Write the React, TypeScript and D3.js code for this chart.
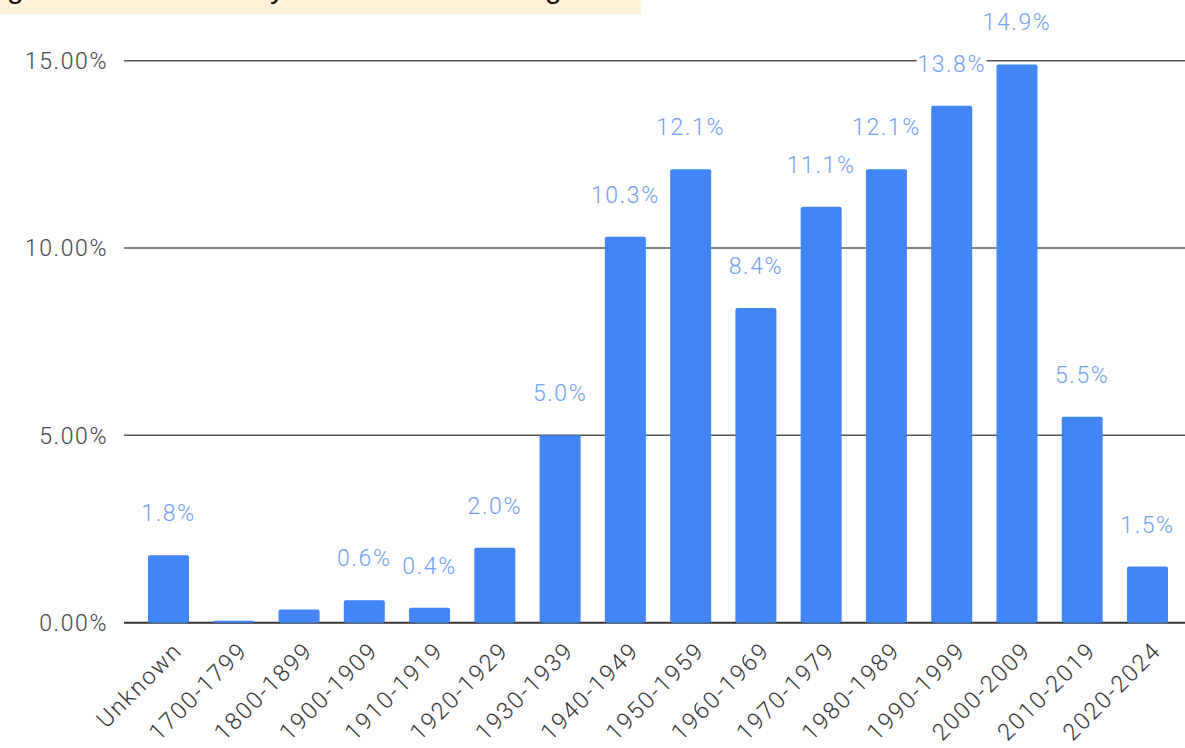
import React from "react";
import * as d3 from "d3";

// Share of buildings by construction period (percent)
const periods = [
  "Unknown", "1700-1799", "1800-1899", "1900-1909", "1910-1919", "1920-1929",
  "1930-1939", "1940-1949", "1950-1959", "1960-1969", "1970-1979", "1980-1989",
  "1990-1999", "2000-2009", "2010-2019", "2020-2024",
];
const shares = [1.8, 0.05, 0.35, 0.6, 0.4, 2.0, 5.0, 10.3, 12.1, 8.4, 11.1, 12.1, 13.8, 14.9, 5.5, 1.5];
// Whether a value label is drawn above each bar
const showLabel = [true, false, false, true, true, true, true, true, true, true, true, true, true, true, true, true];
const yTicks = [0, 5, 10, 15];

const W = 1185;
const H = 748;
const FONT = "Roboto, Arial, sans-serif";

export default function App() {
  const x = d3.scalePoint<string>().domain(periods).range([168.5, 1147.5]);
  const y = d3.scaleLinear().domain([0, 15]).range([622.7, 60.7]);
  const barW = 41;
  const gridX0 = 124;

  return (
    <svg
      width={W}
      height={H}
      style={{ position: "fixed", left: 0, top: 0, background: "#fff" }}
      fontFamily={FONT}
      fontWeight={300}
    >
      {/* title strip, cut off at the top edge */}
      <defs>
        <clipPath id="titleClip">
          <rect x={0} y={0} width={641} height={14} />
        </clipPath>
      </defs>
      <rect x={0} y={0} width={641} height={14} fill="#fdf1da" />
      <g clipPath="url(#titleClip)" fontFamily="Arial, Liberation Sans, sans-serif" fontWeight={400} fontSize={30} fill="#111">
        <text x={7} y={-2}>g</text>
        <text x={270} y={-2}>y</text>
        <text x={545} y={-2}>g</text>
      </g>

      {/* gridlines */}
      {yTicks.map((t) => (
        <line
          key={t}
          x1={gridX0}
          x2={W}
          y1={y(t)}
          y2={y(t)}
          stroke={t === 0 ? "#333" : "#555"}
          strokeWidth={t === 0 ? 2 : 1.5}
        />
      ))}
      {yTicks.map((t) => (
        <text
          key={"yl" + t}
          x={108}
          y={y(t)}
          dy="0.36em"
          textAnchor="end"
          fontSize={23}
          letterSpacing={1.6}
          fill="#444"
        >
          {d3.format(".2f")(t) + "%"}
        </text>
      ))}

      {/* bars */}
      {periods.map((p, i) => (
        <rect
          key={p}
          x={(x(p) as number) - barW / 2}
          y={y(shares[i])}
          width={barW}
          height={y(0) - y(shares[i])}
          rx={2}
          fill="#4285f4"
        />
      ))}

      {/* value labels */}
      {periods.map((p, i) => {
        if (!showLabel[i]) return null;
        const txt = shares[i].toFixed(1) + "%";
        const tw = txt.length * 14;
        const cx = x(p) as number;
        const by = y(shares[i]) - 34;
        return (
          <g key={"v" + p}>
            <rect x={cx - tw / 2} y={by - 20} width={tw} height={24} fill="#fff" />
            <text
              x={cx}
              y={by}
              textAnchor="middle"
              fontSize={23}
              letterSpacing={1.6}
              fill="#6fa0f3"
            >
              {txt}
            </text>
          </g>
        );
      })}

      {/* rotated category labels */}
      {periods.map((p) => {
        const cx = (x(p) as number) + 15;
        const cy = 652;
        return (
          <text
            key={"x" + p}
            x={cx}
            y={cy}
            textAnchor="end"
            fontSize={23.5}
            letterSpacing={1.8}
            fill="#333"
            transform={`rotate(-45 ${cx} ${cy})`}
          >
            {p}
          </text>
        );
      })}
    </svg>
  );
}
